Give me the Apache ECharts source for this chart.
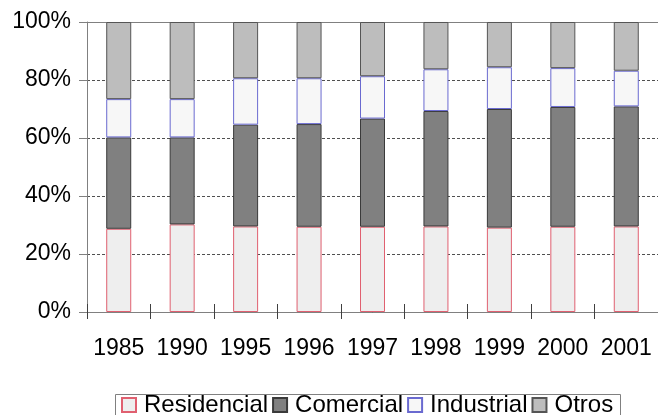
<!DOCTYPE html>
<html>
<head>
<meta charset="utf-8">
<script src="https://cdn.jsdelivr.net/npm/echarts@6/dist/echarts.min.js"></script>
<style>html,body{margin:0;padding:0;background:#fff}#c{width:658px;height:415px}</style>
</head>
<body>
<div id="c"></div>
<script>
var categories = ['1985','1990','1995','1996','1997','1998','1999','2000','2001'];
var residencial = [28.7, 30.2, 29.5, 29.4, 29.4, 29.5, 29.1, 29.4, 29.5];
var comercial   = [31.5, 30.0, 35.1, 35.4, 37.3, 39.8, 40.9, 41.3, 41.4];
var industrial  = [13.2, 13.2, 16.0, 15.8, 14.6, 14.4, 14.4, 13.4, 12.3];
var otros       = [26.6, 26.6, 19.4, 19.4, 18.7, 16.3, 15.6, 15.9, 16.8];
var yTicks = [0, 20, 40, 60, 80, 100];

var chart = echarts.init(document.getElementById('c'), null, {renderer: 'canvas'});
var font = 'Liberation Sans, Arial, sans-serif';
function bar(name, data, fill, border) {
  return {
    name: name, type: 'bar', stack: 'total', data: data, barWidth: 25,
    xAxisIndex: 0,
    itemStyle: {color: fill, borderColor: border, borderWidth: 1},
    emphasis: {disabled: true}
  };
}
chart.setOption({
  animation: false,
  grid: {left: 87, right: 0, top: 22, bottom: 103, containLabel: false},
  graphic: [{
    type: 'rect', left: 113, top: 392, silent: true,
    shape: {width: 505, height: 30},
    style: {fill: 'none', stroke: '#808080', lineWidth: 1}
  }],
  legend: {
    left: 113, top: 389, orient: 'horizontal',
    itemWidth: 14, itemHeight: 14, itemGap: 4,
    padding: [4, 8, 4, 8],
    textStyle: {fontFamily: font, fontSize: 24, color: '#000', padding: [0, 0, 0, 3]},
    data: [
      {name: 'Residencial', icon: 'rect'},
      {name: 'Comercial', icon: 'rect'},
      {name: 'Industrial', icon: 'rect'},
      {name: 'Otros', icon: 'rect'}
    ]
  },
  xAxis: [
    {
      type: 'category', data: categories, position: 'bottom',
      axisLine: {show: true, lineStyle: {color: '#808080', width: 1}},
      axisTick: {show: true, alignWithLabel: false, length: 7, lineStyle: {color: '#404040'}},
      axisLabel: {fontFamily: font, fontSize: 23, color: '#000', margin: 25, interval: 0}
    },
    {
      type: 'category', data: categories, position: 'bottom', gridIndex: 0,
      axisLine: {show: false},
      axisTick: {show: true, inside: true, length: 8, lineStyle: {color: '#404040'}},
      axisLabel: {show: false}
    },
    {
      type: 'category', data: categories, position: 'top', gridIndex: 0,
      axisLine: {show: true, lineStyle: {color: '#808080', width: 1}},
      axisTick: {show: false},
      axisLabel: {show: false}
    }
  ],
  yAxis: {
    type: 'value', min: 0, max: 100, interval: 20,
    axisLine: {show: true, lineStyle: {color: '#808080', width: 1}},
    axisTick: {show: true, length: 8, lineStyle: {color: '#808080'}},
    axisLabel: {
      fontFamily: font, fontSize: 23, color: '#000', margin: 16,
      formatter: function (v) { return yTicks.indexOf(v) >= 0 ? v + '%' : ''; }
    },
    splitLine: {show: true, lineStyle: {color: '#505050', type: [3, 2], width: 1}}
  },
  series: [
    bar('Residencial', residencial, '#eeeeee', '#e06070'),
    bar('Comercial', comercial, '#808080', '#3a3a3a'),
    bar('Industrial', industrial, '#f7f7f7', '#6a6ad0'),
    bar('Otros', otros, '#bdbdbd', '#555555')
  ]
});
</script>
</body>
</html>
